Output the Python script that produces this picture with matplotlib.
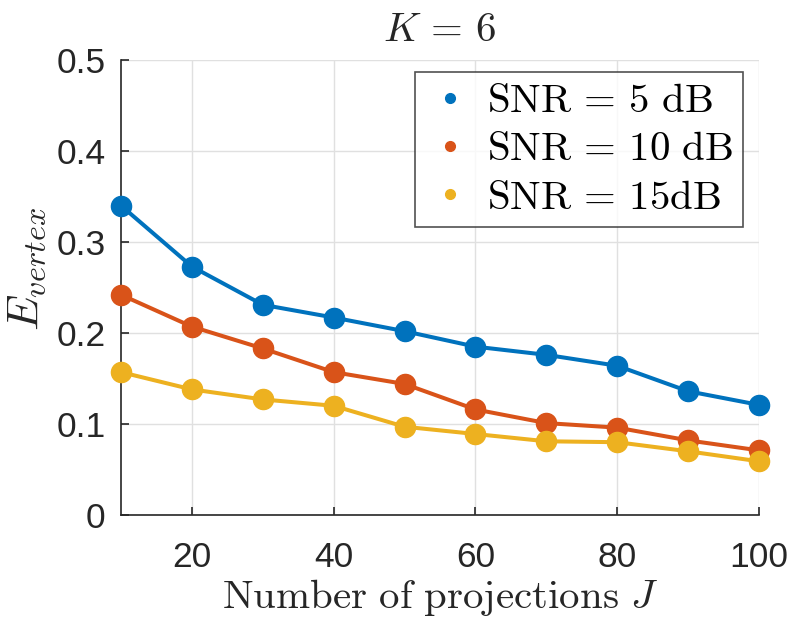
import matplotlib
matplotlib.use("Agg")
import matplotlib.pyplot as plt
from matplotlib.lines import Line2D

J = [10, 20, 30, 40, 50, 60, 70, 80, 90, 100]
snr5 = [0.340, 0.273, 0.231, 0.217, 0.202, 0.185, 0.176, 0.164, 0.136, 0.121]
snr10 = [0.242, 0.207, 0.183, 0.157, 0.144, 0.116, 0.101, 0.096, 0.082, 0.071]
snr15 = [0.157, 0.138, 0.127, 0.120, 0.097, 0.089, 0.081, 0.080, 0.070, 0.059]
labels = [r'$\mathrm{SNR}\,=\,5\ \mathrm{dB}$', r'$\mathrm{SNR}\,=\,10\ \mathrm{dB}$', r'$\mathrm{SNR}\,=\,15\mathrm{dB}$']
colors = ['#0072BD', '#D95319', '#EDB120']
xticks = [20, 40, 60, 80, 100]
yticks = [0, 0.1, 0.2, 0.3, 0.4, 0.5]
yticklabels = ['0', '0.1', '0.2', '0.3', '0.4', '0.5']

plt.rcParams['mathtext.fontset'] = 'cm'
plt.rcParams['font.family'] = ['Liberation Sans', 'DejaVu Sans']

fig = plt.figure(figsize=(7.96, 6.25), dpi=100)
ax = fig.add_axes([0.152, 0.176, 0.8015, 0.728])

for ys, c in zip([snr5, snr10, snr15], colors):
    ax.plot(J, ys, '-o', color=c, lw=2.9, markersize=14.5, clip_on=False, zorder=3)

ax.set_xlim(10, 100)
ax.set_ylim(0, 0.5)
ax.set_xticks(xticks)
ax.set_yticks(yticks)
ax.set_yticklabels(yticklabels)
ax.grid(True, color='#e0e0e0', lw=1.0)
ax.set_axisbelow(True)
for s in ['top', 'right']:
    ax.spines[s].set_visible(False)
for s in ['left', 'bottom']:
    ax.spines[s].set_color('#262626')
    ax.spines[s].set_linewidth(1.2)
ax.tick_params(direction='in', length=6, width=1.2, color='#262626',
               labelsize=25.5, labelcolor='#262626')
ax.tick_params(axis='y', pad=11)
ax.tick_params(axis='x', pad=19)

ax.set_xlabel(r'$\mathrm{Number\ of\ projections}\ J$', fontsize=29.5, color='#262626', labelpad=2)
ax.set_ylabel(r'$E_{vertex}$', fontsize=33, color='#262626')
ax.yaxis.set_label_coords(-0.112, 0.54)
ax.set_title(r'$K\,=\,6$', fontsize=29.5, color='#262626', pad=14)

handles = [Line2D([], [], ls='none', marker='o', markersize=7, color=c) for c in colors]
leg = ax.legend(handles, labels, loc='upper right', bbox_to_anchor=(0.975, 0.974),
                fontsize=29.5, frameon=True, fancybox=False, edgecolor='#262626',
                handlelength=1.2, handletextpad=0.3, borderpad=0.25, labelspacing=0.25,
                borderaxespad=0)
leg.get_frame().set_linewidth(1.2)

fig.savefig('out.png', dpi=100)
